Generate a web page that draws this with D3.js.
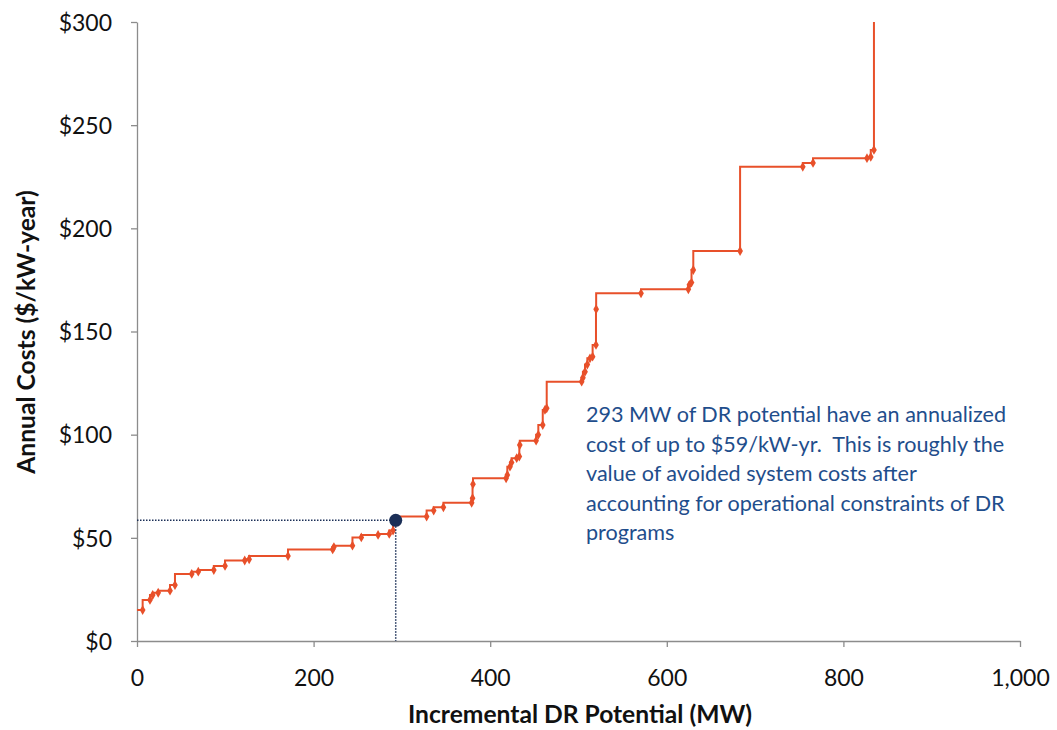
<!DOCTYPE html>
<html><head><meta charset="utf-8">
<script src="https://cdn.jsdelivr.net/npm/d3@7"></script>
<style>body{margin:0;background:#fff}svg{display:block}text{font-family:Lato,"Open Sans",sans-serif}</style>
</head><body><svg id="c" width="1057" height="730"></svg>
<script>
// Cumulative DR potential (MW) and annualized cost ($/kW-yr) for each program
const mw =   [6.4,14.7,17.8,24,37.4,43,62,69.4,87,99.7,122,127,171,221.6,223,244,254,273,285.7,290,293,328,336,347,379,380,380.5,418,419.4,422.4,424.2,430,433,433.5,452,454.5,459.5,462,464,503.6,505,507.4,510,513,516,519.8,520,570.8,624.4,625.6,628,630,683,754,765.6,826.7,831,834.6];
const cost = [15.0,19.9,22.3,23.4,24.4,27.1,32.5,33.6,34.4,36.4,39.0,39.6,41.2,44.4,45.5,46.2,50.2,51.4,51.9,53.5,58.5,60.3,63.2,64.8,67,69.2,76,78.9,80.5,84.5,86.5,88.6,89.4,95,97.1,99.9,104.7,112,112.8,125.7,127.6,130.5,134,137,137.8,143.5,160.8,168.5,170.5,172.6,173.7,179.8,189,229.8,231.7,234,234.6,238];
const curveEnd = 300;
const highlight = {mw: 293, cost: 58.5};
const xTicks = [0,200,400,600,800,1000];
const yTicks = [0,50,100,150,200,250,300];
const note = ["293 MW of DR potential have an annualized",
  "cost of up to $59/kW-yr.  This is roughly the",
  "value of avoided system costs after",
  "accounting for operational constraints of DR",
  "programs"];

const svg = d3.select("#c");
const x = d3.scaleLinear().domain([0,1000]).range([137,1020]);
const y = d3.scaleLinear().domain([0,300]).range([641,22]);
const axisColor = "#8c8c8c";

// fit a text element's font size so that it spans a target width
function fit(sel, width){
  const w = sel.node().getComputedTextLength();
  const fs = parseFloat(sel.style("font-size"));
  sel.style("font-size", (fs*width/w).toFixed(2)+"px");
}

// axes
const gx = svg.append("g").attr("transform",`translate(0,${y(0)})`)
  .call(d3.axisBottom(x).tickValues(xTicks).tickSize(6).tickSizeOuter(0).tickFormat(d3.format(",")));
const gy = svg.append("g").attr("transform",`translate(${x(0)},0)`)
  .call(d3.axisLeft(y).tickValues(yTicks).tickSize(6).tickSizeOuter(0).tickFormat(d=>"$"+d));
[gx,gy].forEach(g=>{
  g.select(".domain").attr("stroke",axisColor).attr("stroke-width",1.3);
  g.selectAll(".tick line").attr("stroke",axisColor).attr("stroke-width",1.3);
  g.selectAll(".tick text").attr("fill","#111").style("font-size","23px");
});
gx.selectAll(".tick text").attr("y",45).attr("dy","0");
gy.selectAll(".tick text").attr("x",-25).attr("dy","0.36em");

// axis titles
const xt = svg.append("text").attr("x",580).attr("y",723).attr("text-anchor","middle")
  .style("font-size","22px").style("font-weight","bold").attr("fill","#111")
  .text("Incremental DR Potential (MW)");
fit(xt, 344);
const yt = svg.append("text").attr("transform",`translate(35,${332}) rotate(-90)`)
  .attr("text-anchor","middle").style("font-size","22px").style("font-weight","bold").attr("fill","#111")
  .text("Annual Costs ($/kW-year)");
yt.style("font-size", xt.style("font-size"));

// step line
const pts = [[0,cost[0]]].concat(mw.map((m,i)=>[m,cost[i]])).concat([[mw[mw.length-1],curveEnd]]);
const red = "#E8502A";
svg.append("path").datum(pts)
  .attr("d", d3.line().x(d=>x(d[0])).y(d=>y(d[1])).curve(d3.curveStepBefore))
  .attr("fill","none").attr("stroke",red).attr("stroke-width",2);
const sym = d3.symbol().type(d3.symbolDiamond).size(28);
svg.append("g").selectAll("path").data(mw.map((m,i)=>[m,cost[i]])).join("path")
  .attr("transform",d=>`translate(${x(d[0])},${y(d[1])})`).attr("d",sym).attr("fill",red);

// highlight guides
const navy = "#1B2F57";
svg.append("line").attr("x1",x(0)).attr("x2",x(highlight.mw)).attr("y1",y(highlight.cost)).attr("y2",y(highlight.cost))
  .attr("stroke",navy).attr("stroke-width",1.5).attr("stroke-dasharray","1.5,1.5");
svg.append("line").attr("x1",x(highlight.mw)).attr("x2",x(highlight.mw)).attr("y1",y(highlight.cost)).attr("y2",y(0))
  .attr("stroke",navy).attr("stroke-width",1.5).attr("stroke-dasharray","1.5,1.5");
svg.append("circle").attr("cx",x(highlight.mw)).attr("cy",y(highlight.cost)).attr("r",6.5).attr("fill",navy);

// annotation
const t = svg.append("text").attr("fill","#1F4E8C").style("font-size","20px").attr("xml:space","preserve").style("white-space","pre");
note.forEach((s,i)=>t.append("tspan").attr("x",586).attr("y",422+i*29.6).text(s));
const probe = svg.append("text").style("font-size","20px").text(note[0]);
const fs = 20*420/probe.node().getComputedTextLength();
probe.remove();
t.style("font-size", fs.toFixed(2)+"px");
</script></body></html>
